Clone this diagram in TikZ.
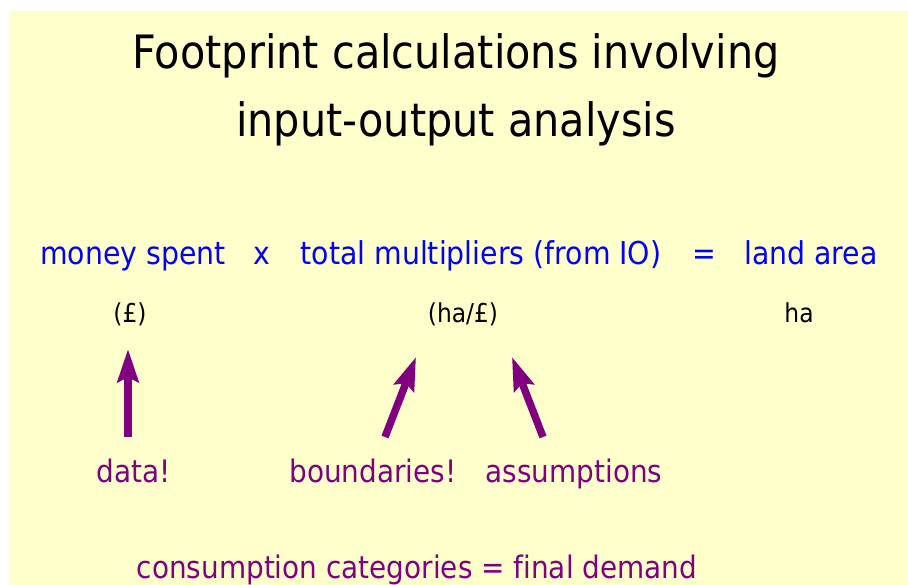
\documentclass[tikz,border=0pt]{standalone}
\usepackage{fontspec}
\setmainfont{DejaVu Sans}[FakeStretch=0.9, Ligatures=NoCommon]
\usetikzlibrary{arrows.meta}
\definecolor{slidebg}{HTML}{FFFFCC}
\definecolor{plum}{HTML}{800080}
\definecolor{eqblue}{HTML}{0000FF}

\begin{document}
\begin{tikzpicture}[x=1pt, y=-1pt,
  title/.style={font=\fontsize{46}{56}\selectfont, anchor=base, inner sep=0pt},
  eqn/.style={text=eqblue, font=\fontsize{31.5}{36}\selectfont, anchor=base, inner sep=0pt},
  unit/.style={font=\fontsize{26}{30}\selectfont, anchor=base, inner sep=0pt},
  note/.style={text=plum, font=\fontsize{31}{36}\selectfont, anchor=base, inner sep=0pt},
  arr/.style={-{Stealth[length=33pt, width=21pt, inset=5pt]}, line width=7.5pt, draw=plum}
]
\useasboundingbox (0,0) rectangle (908,585);
\fill[slidebg] (9,11) rectangle (908,585);

\node[title] (head1) at (456,69) {Footprint calculations involving};
\node[title] (head2) at (456,137) {input-output analysis};

\node[eqn] (money) at (133,265) {money spent};
\node[eqn] (times) at (262,265) {x};
\node[eqn] (mult)  at (481,265) {total multipliers (from IO)};
\node[eqn] (equal) at (704,265) {=};
\node[eqn] (land)  at (811,265) {land area};

\node[unit] (pound)  at (130,323) {(£)};
\node[unit] (haper)  at (463,323) {(ha/£)};
\node[unit] (ha)     at (799,323) {ha};

\node[note] (data)    at (134,482) {data!};
\node[note] (bound)   at (373,482) {boundaries!};
\node[note] (assume)  at (574,482) {assumptions};
\node[note] (consume) at (417,578) {consumption categories = final demand};

\coordinate (dataTail)   at (128,437);
\coordinate (dataTip)    at (128,349);
\coordinate (boundTail)  at (385,437);
\coordinate (boundTip)   at (416,357);
\coordinate (assumeTail) at (543,437);
\coordinate (assumeTip)  at (512,357);

\draw[arr] (dataTail) -- (dataTip);
\draw[arr] (boundTail) -- (boundTip);
\draw[arr] (assumeTail) -- (assumeTip);
\end{tikzpicture}
\end{document}
